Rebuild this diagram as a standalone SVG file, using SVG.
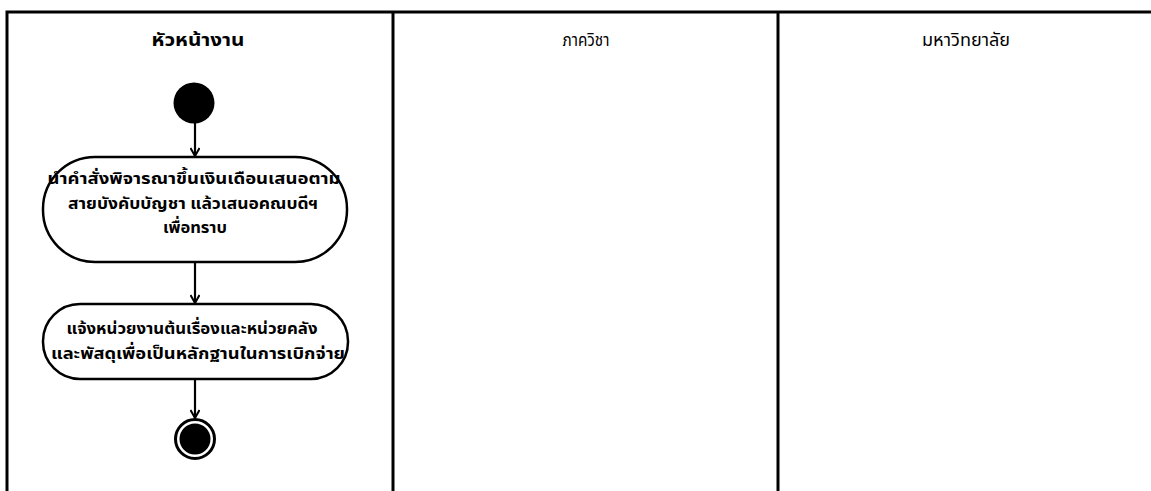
<svg xmlns="http://www.w3.org/2000/svg" width="1151" height="491" viewBox="0 0 1151 491">
<defs>
<style>
.lane{stroke:#000;stroke-width:3;fill:none}
.hdr{font-family:"Noto Sans Thai","Noto Sans","DejaVu Sans",sans-serif;font-size:18px;text-anchor:middle;fill:#000}
.act{fill:#fff;stroke:#000;stroke-width:2.5}
.txt{font-family:"Noto Sans Thai","Noto Sans","DejaVu Sans",sans-serif;font-size:16.5px;font-weight:bold;text-anchor:middle;fill:#000}
.edge{stroke:#000;stroke-width:2.2;fill:none}
</style>
<marker id="arr" viewBox="0 0 10 10" refX="9" refY="5" markerWidth="10" markerHeight="10" markerUnits="userSpaceOnUse" orient="auto">
<path d="M1,0.5 L9,5 L1,9.5" fill="none" stroke="#000" stroke-width="2"/>
</marker>
</defs>
<rect width="1151" height="491" fill="#fff"/>
<g id="lanes">
<path class="lane" d="M7,491 V12 H1151"/>
<path class="lane" d="M393,12 V491"/>
<path class="lane" d="M778,12 V491"/>
<text class="hdr" x="198" y="46" font-weight="bold" textLength="93" lengthAdjust="spacingAndGlyphs">หัวหน้างาน</text>
<text class="hdr" x="586" y="46" textLength="47" lengthAdjust="spacingAndGlyphs">ภาควิชา</text>
<text class="hdr" x="966" y="46" textLength="88" lengthAdjust="spacingAndGlyphs">มหาวิทยาลัย</text>
</g>
<g id="connectors">
<line class="edge" x1="195" y1="123" x2="195" y2="156" marker-end="url(#arr)"/>
<line class="edge" x1="195" y1="262" x2="195" y2="303" marker-end="url(#arr)"/>
<line class="edge" x1="195" y1="379" x2="195" y2="418" marker-end="url(#arr)"/>
</g>
<g id="start">
<circle cx="194" cy="103" r="20.5" fill="#000"/>
</g>
<g id="act1">
<rect class="act" x="43" y="157" width="304" height="105" rx="52" ry="52"/>
<text class="txt" x="194" y="184" textLength="293" lengthAdjust="spacingAndGlyphs">นำคำสั่งพิจารณาขึ้นเงินเดือนเสนอตาม</text>
<text class="txt" x="193" y="208.5" textLength="250" lengthAdjust="spacingAndGlyphs">สายบังคับบัญชา แล้วเสนอคณบดีฯ</text>
<text class="txt" x="195" y="233" textLength="64" lengthAdjust="spacingAndGlyphs">เพื่อทราบ</text>
</g>
<g id="act2">
<rect class="act" x="43" y="304" width="305" height="75" rx="37" ry="37"/>
<text class="txt" x="192" y="334" textLength="251" lengthAdjust="spacingAndGlyphs">แจ้งหน่วยงานต้นเรื่องและหน่วยคลัง</text>
<text class="txt" x="198" y="358.5" textLength="294" lengthAdjust="spacingAndGlyphs">และพัสดุเพื่อเป็นหลักฐานในการเบิกจ่าย</text>
</g>
<g id="end">
<circle cx="195" cy="439" r="19.5" fill="#fff" stroke="#000" stroke-width="3"/>
<circle cx="195" cy="439" r="15.5" fill="#000"/>
</g>
</svg>
